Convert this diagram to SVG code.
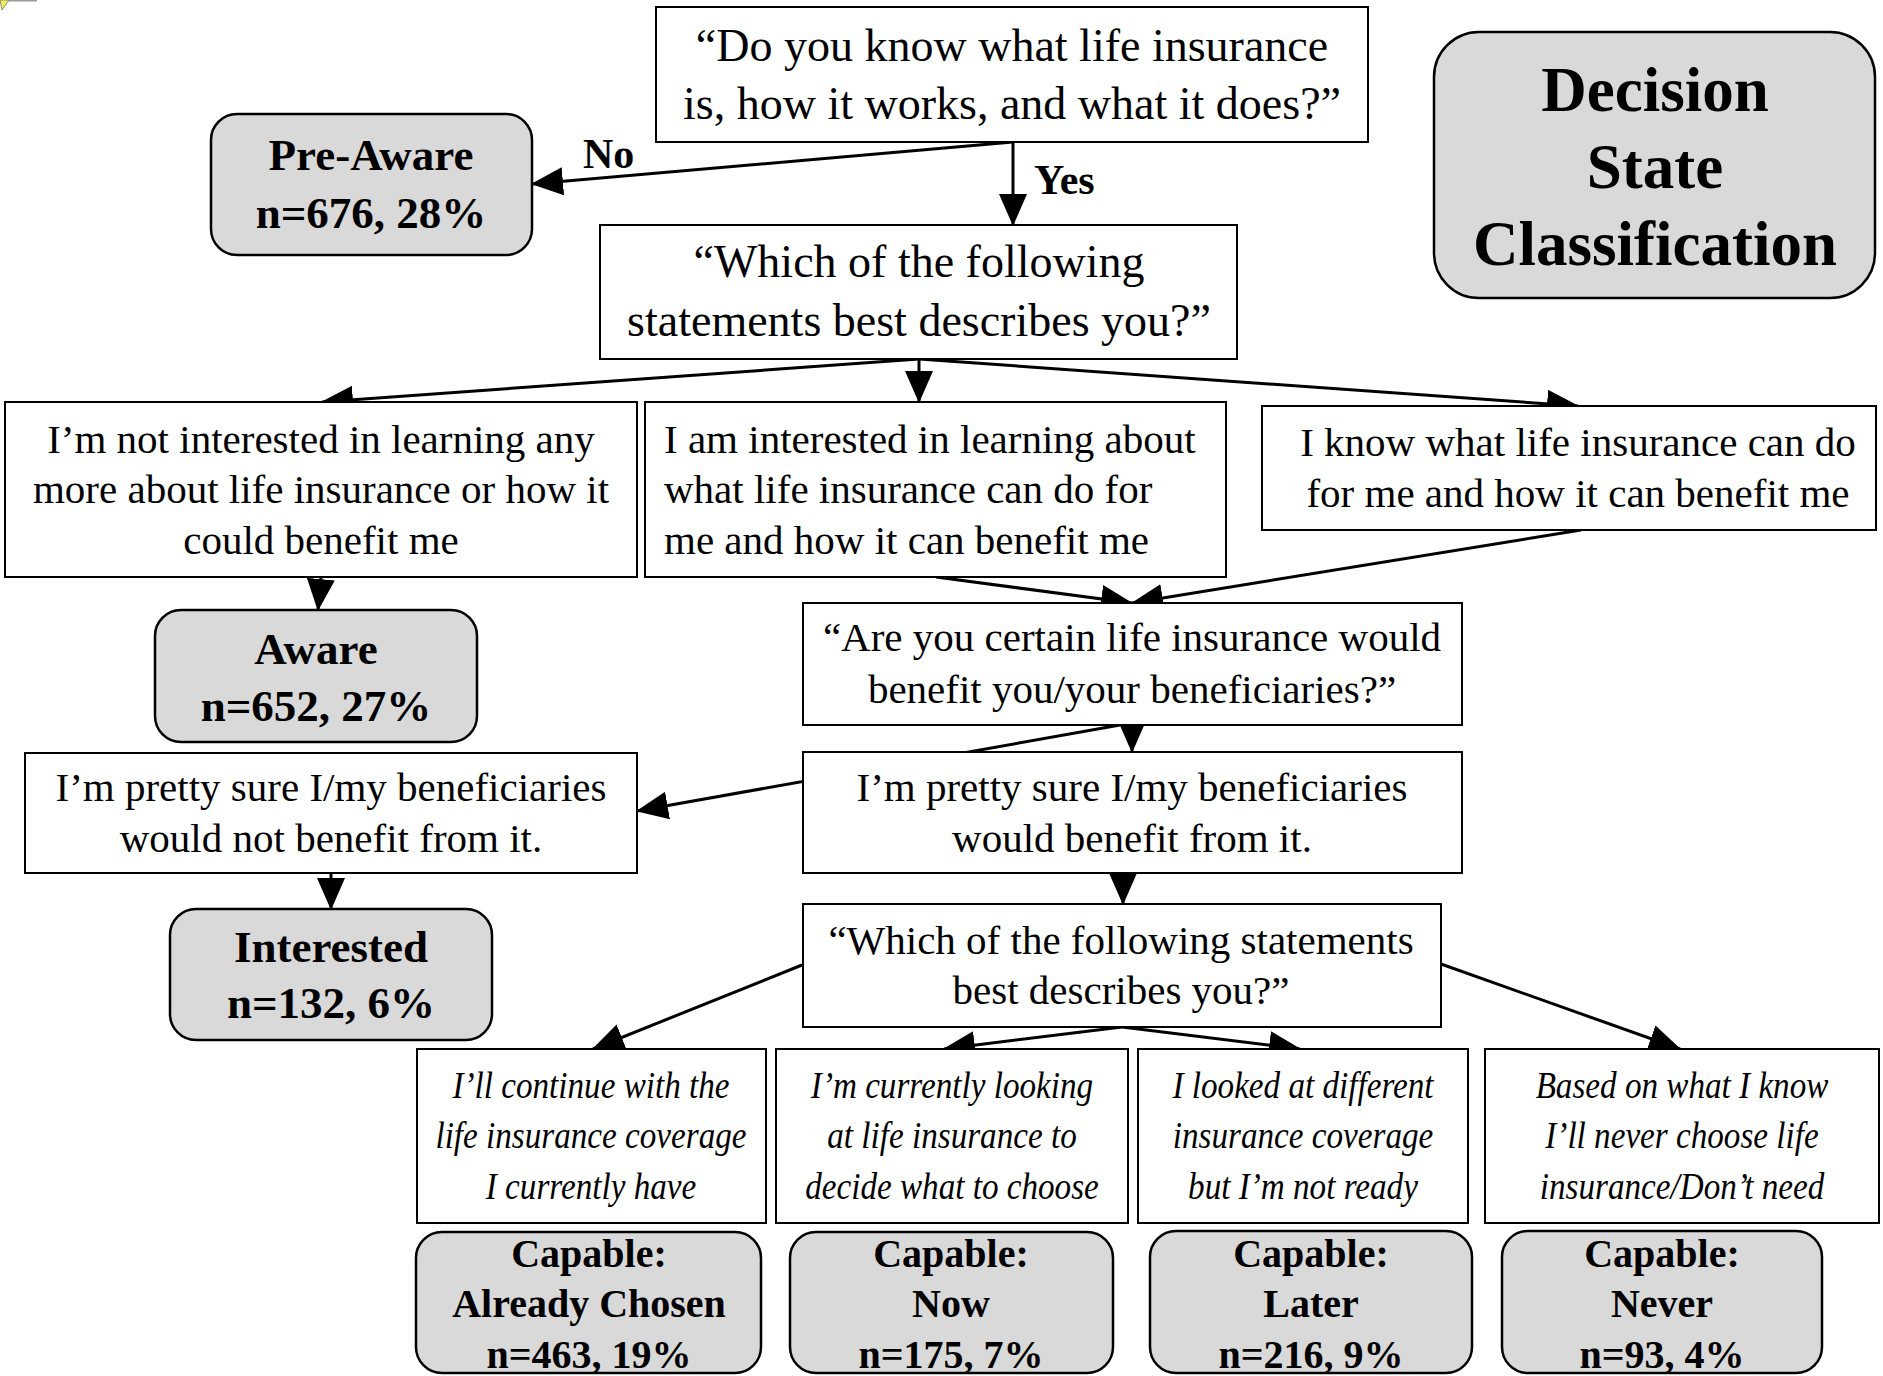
<svg xmlns="http://www.w3.org/2000/svg" width="1883" height="1376" viewBox="0 0 1883 1376">
  <defs>
    <marker id="arrow" markerUnits="userSpaceOnUse" markerWidth="32" markerHeight="28" viewBox="0 0 32 28" refX="31" refY="14" orient="auto">
      <path d="M0,0 L32,14 L0,28 Z" fill="#000"/>
    </marker>
    <style>
      .q { fill: #fff; stroke: #000; stroke-width: 2; }
      .st { fill: #d9d9d9; stroke: #000; stroke-width: 2.5; }
      .t { font-family: "Liberation Serif", "Times New Roman", serif; font-size: 41px; fill: #000; text-anchor: middle; }
      .tl { font-family: "Liberation Serif", "Times New Roman", serif; font-size: 41px; fill: #000; text-anchor: start; }
      .tq { font-family: "Liberation Serif", "Times New Roman", serif; font-size: 46px; fill: #000; text-anchor: middle; }
      .ti { font-family: "Liberation Serif", "Times New Roman", serif; font-size: 39px; font-style: italic; fill: #000; text-anchor: middle; }
      .b { font-family: "Liberation Serif", "Times New Roman", serif; font-size: 45px; font-weight: bold; fill: #000; text-anchor: middle; }
      .bc { font-family: "Liberation Serif", "Times New Roman", serif; font-size: 40px; font-weight: bold; fill: #000; text-anchor: middle; }
      .bt { font-family: "Liberation Serif", "Times New Roman", serif; font-size: 63px; font-weight: bold; fill: #000; text-anchor: middle; }
      .lbl { font-family: "Liberation Serif", "Times New Roman", serif; font-size: 42px; font-weight: bold; fill: #000; }
      .c { stroke: #000; stroke-width: 3; fill: none; marker-end: url(#arrow); }
    </style>
  </defs>

  <rect width="1883" height="1376" fill="#fff"/>

  <!-- corner fragment of a clip-art shape -->
  <g id="corner-art">
    <line x1="4" y1="0.8" x2="37" y2="0.8" stroke="#9a9a9a" stroke-width="1.5"/>
    <polygon points="0,0 9,0 2,10" fill="#f4f060" stroke="#8a8a6a" stroke-width="1"/>
  </g>

  <!-- connectors (drawn first so boxes hide overlaps) -->
  <g id="connectors">
    <line class="c" x1="1013" y1="142" x2="532" y2="184"/>
    <line class="c" x1="1013" y1="142" x2="1013" y2="225"/>
    <line class="c" x1="919" y1="359" x2="322" y2="402"/>
    <line class="c" x1="919" y1="359" x2="919" y2="402"/>
    <line class="c" x1="919" y1="359" x2="1578" y2="406"/>
    <line class="c" x1="321" y1="577" x2="318" y2="610"/>
    <line class="c" x1="936" y1="577" x2="1132" y2="603"/>
    <line class="c" x1="1581" y1="530" x2="1132" y2="603"/>
    <line class="c" x1="1132" y1="725" x2="1132" y2="752"/>
    <line class="c" x1="1120" y1="725" x2="637" y2="811" stroke-width="2.5"/>
    <line class="c" x1="1123" y1="873" x2="1123" y2="904"/>
    <line class="c" x1="331" y1="873" x2="331" y2="909"/>
    <line class="c" x1="802" y1="965" x2="593" y2="1049"/>
    <line class="c" x1="1122" y1="1027" x2="944" y2="1049"/>
    <line class="c" x1="1122" y1="1027" x2="1300" y2="1049"/>
    <line class="c" x1="1441" y1="964" x2="1680" y2="1049"/>
    <text class="lbl" x="583" y="168">No</text>
    <text class="lbl" x="1034" y="194">Yes</text>
  </g>

  <!-- questions -->
  <g id="q-know">
    <rect class="q" x="656" y="7" width="712" height="135"/>
    <text class="tq" x="1012" y="61">“Do you know what life insurance</text>
    <text class="tq" x="1012" y="119">is, how it works, and what it does?”</text>
  </g>
  <g id="q-describe">
    <rect class="q" x="600" y="225" width="637" height="134"/>
    <text class="tq" x="919" y="277">“Which of the following</text>
    <text class="tq" x="919" y="336">statements best describes you?”</text>
  </g>
  <g id="opt-not-interested">
    <rect class="q" x="5" y="402" width="632" height="175"/>
    <text class="t" x="321" y="453">I’m not interested in learning any</text>
    <text class="t" x="321" y="503">more about life insurance or how it</text>
    <text class="t" x="321" y="554">could benefit me</text>
  </g>
  <g id="opt-interested">
    <rect class="q" x="645" y="402" width="581" height="175"/>
    <text class="tl" x="664" y="453">I am interested in learning about</text>
    <text class="tl" x="664" y="503">what life insurance can do for</text>
    <text class="tl" x="664" y="554">me and how it can benefit me</text>
  </g>
  <g id="opt-know">
    <rect class="q" x="1262" y="406" width="614" height="124"/>
    <text class="t" x="1578" y="456">I know what life insurance can do</text>
    <text class="t" x="1578" y="507">for me and how it can benefit me</text>
  </g>
  <g id="q-certain">
    <rect class="q" x="803" y="603" width="659" height="122"/>
    <text class="t" x="1132" y="651">“Are you certain life insurance would</text>
    <text class="t" x="1132" y="703">benefit you/your beneficiaries?”</text>
  </g>
  <g id="opt-not-benefit">
    <rect class="q" x="25" y="753" width="612" height="120"/>
    <text class="t" x="331" y="801">I’m pretty sure I/my beneficiaries</text>
    <text class="t" x="331" y="852">would not benefit from it.</text>
  </g>
  <g id="opt-benefit">
    <rect class="q" x="803" y="752" width="659" height="121"/>
    <text class="t" x="1132" y="801">I’m pretty sure I/my beneficiaries</text>
    <text class="t" x="1132" y="852">would benefit from it.</text>
  </g>
  <g id="q-describe-2">
    <rect class="q" x="803" y="904" width="638" height="123"/>
    <text class="t" x="1121" y="954">“Which of the following statements</text>
    <text class="t" x="1121" y="1004">best describes you?”</text>
  </g>

  <!-- italic answer options -->
  <g id="opt-continue">
    <rect class="q" x="417" y="1049" width="349" height="174"/>
    <g transform="translate(591,0) scale(0.85,1)">
      <text class="ti" x="0" y="1098">I’ll continue with the</text>
      <text class="ti" x="0" y="1148">life insurance coverage</text>
      <text class="ti" x="0" y="1199">I currently have</text>
    </g>
  </g>
  <g id="opt-looking">
    <rect class="q" x="776" y="1049" width="352" height="174"/>
    <g transform="translate(952,0) scale(0.85,1)">
      <text class="ti" x="0" y="1098">I’m currently looking</text>
      <text class="ti" x="0" y="1148">at life insurance to</text>
      <text class="ti" x="0" y="1199">decide what to choose</text>
    </g>
  </g>
  <g id="opt-looked">
    <rect class="q" x="1138" y="1049" width="330" height="174"/>
    <g transform="translate(1303,0) scale(0.85,1)">
      <text class="ti" x="0" y="1098">I looked at different</text>
      <text class="ti" x="0" y="1148">insurance coverage</text>
      <text class="ti" x="0" y="1199">but I’m not ready</text>
    </g>
  </g>
  <g id="opt-never">
    <rect class="q" x="1485" y="1049" width="394" height="174"/>
    <g transform="translate(1682,0) scale(0.85,1)">
      <text class="ti" x="0" y="1098">Based on what I know</text>
      <text class="ti" x="0" y="1148">I’ll never choose life</text>
      <text class="ti" x="0" y="1199">insurance/Don’t need</text>
    </g>
  </g>

  <!-- decision states -->
  <g id="state-title">
    <rect class="st" x="1434" y="32" width="441" height="266" rx="45"/>
    <text class="bt" x="1655" y="111">Decision</text>
    <text class="bt" x="1655" y="188">State</text>
    <text class="bt" x="1655" y="265">Classification</text>
  </g>
  <g id="state-pre-aware">
    <rect class="st" x="211" y="114" width="321" height="141" rx="26"/>
    <text class="b" x="371" y="170">Pre-Aware</text>
    <text class="b" x="371" y="228">n=676, 28%</text>
  </g>
  <g id="state-aware">
    <rect class="st" x="155" y="610" width="322" height="132" rx="26"/>
    <text class="b" x="316" y="664">Aware</text>
    <text class="b" x="316" y="721">n=652, 27%</text>
  </g>
  <g id="state-interested">
    <rect class="st" x="170" y="909" width="322" height="131" rx="26"/>
    <text class="b" x="331" y="962">Interested</text>
    <text class="b" x="331" y="1018">n=132, 6%</text>
  </g>
  <g id="state-capable-chosen">
    <rect class="st" x="416" y="1232" width="345" height="141" rx="26"/>
    <text class="bc" x="589" y="1267">Capable:</text>
    <text class="bc" x="589" y="1317">Already Chosen</text>
    <text class="bc" x="589" y="1368">n=463, 19%</text>
  </g>
  <g id="state-capable-now">
    <rect class="st" x="790" y="1232" width="323" height="141" rx="26"/>
    <text class="bc" x="951" y="1267">Capable:</text>
    <text class="bc" x="951" y="1317">Now</text>
    <text class="bc" x="951" y="1368">n=175, 7%</text>
  </g>
  <g id="state-capable-later">
    <rect class="st" x="1150" y="1231" width="322" height="142" rx="26"/>
    <text class="bc" x="1311" y="1267">Capable:</text>
    <text class="bc" x="1311" y="1317">Later</text>
    <text class="bc" x="1311" y="1368">n=216, 9%</text>
  </g>
  <g id="state-capable-never">
    <rect class="st" x="1502" y="1231" width="320" height="142" rx="26"/>
    <text class="bc" x="1662" y="1267">Capable:</text>
    <text class="bc" x="1662" y="1317">Never</text>
    <text class="bc" x="1662" y="1368">n=93, 4%</text>
  </g>
</svg>
